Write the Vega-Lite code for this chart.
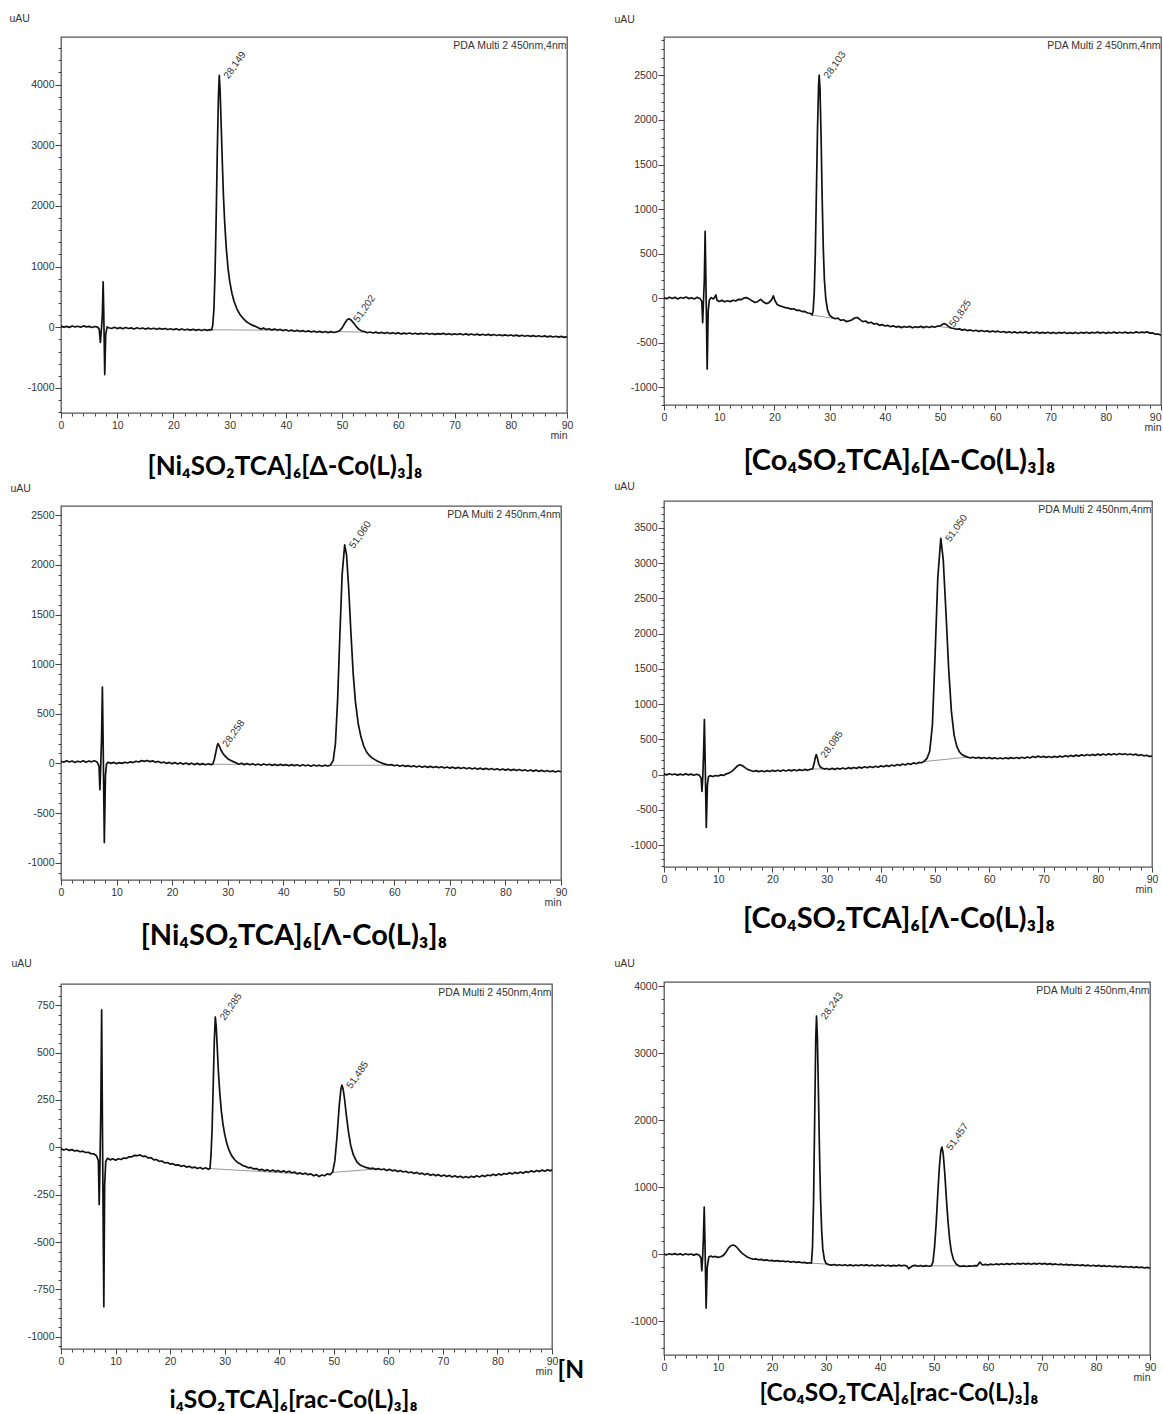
{
  "$schema": "https://vega.github.io/schema/vega-lite/v6.json",
  "padding": {"left": 8, "top": 12, "right": 0, "bottom": 0},
  "background": "white",
  "config": {
    "view": {"stroke": "#555555", "strokeWidth": 1.3},
    "locale": {"number": {"decimal": ",", "thousands": ".", "grouping": [3], "currency": ["", ""], "minus": "-"}},
    "axis": {"labelFont": "Liberation Sans", "labelFontSize": 10.5, "labelColor": "#333333", "tickColor": "#444444", "domain": false, "grid": false, "titleFont": "Liberation Sans", "titleFontSize": 10.5, "titleFontWeight": "normal", "titleColor": "#333333", "format": "d", "labelFlush": false, "labelOverlap": false},
    "axisX": {"titleAnchor": "end", "titleAlign": "right", "titleBaseline": "top", "labelPadding": 2},
    "axisY": {"titleAngle": 0, "titleAlign": "left", "titleBaseline": "middle", "labelPadding": 1},
    "title": {"font": "Lato", "fontWeight": "bold", "color": "#000000", "orient": "bottom", "anchor": "middle", "frame": "group", "baseline": "top"},
    "text": {"font": "Liberation Sans", "fontSize": 10, "color": "#333333"}
  },
  "datasets": {
    "p1": [{"t":0,"v":18},{"t":0.5,"v":2},{"t":1,"v":15},{"t":1.5,"v":-2},{"t":2,"v":20},{"t":2.5,"v":5},{"t":3,"v":16},{"t":3.5,"v":0},{"t":4,"v":22},{"t":4.5,"v":6},{"t":5,"v":14},{"t":5.5,"v":-3},{"t":6,"v":12},{"t":6.5,"v":2},{"t":6.8,"v":-30},{"t":7.0,"v":-250},{"t":7.2,"v":-20},{"t":7.35,"v":200},{"t":7.5,"v":750},{"t":7.62,"v":150},{"t":7.78,"v":-780},{"t":7.95,"v":-120},{"t":8.2,"v":5},{"t":8.5,"v":-8},{"t":9,"v":-20},{"t":9.5,"v":0},{"t":10,"v":-22},{"t":10.5,"v":-6},{"t":11,"v":-25},{"t":11.5,"v":-4},{"t":12,"v":-20},{"t":12.5,"v":-10},{"t":13,"v":-28},{"t":13.5,"v":-8},{"t":14,"v":-24},{"t":14.5,"v":-12},{"t":15,"v":-30},{"t":15.5,"v":-14},{"t":16,"v":-28},{"t":16.5,"v":-16},{"t":17,"v":-34},{"t":17.5,"v":-18},{"t":18,"v":-32},{"t":18.5,"v":-20},{"t":19,"v":-38},{"t":19.5,"v":-24},{"t":20,"v":-40},{"t":20.5,"v":-26},{"t":21,"v":-44},{"t":21.5,"v":-28},{"t":22,"v":-46},{"t":22.5,"v":-32},{"t":23,"v":-48},{"t":23.5,"v":-34},{"t":24,"v":-52},{"t":24.5,"v":-36},{"t":25,"v":-54},{"t":25.5,"v":-38},{"t":26,"v":-52},{"t":26.5,"v":-40},{"t":26.8,"v":-45},{"t":27.0,"v":40},{"t":27.2,"v":300},{"t":27.4,"v":900},{"t":27.6,"v":1800},{"t":27.8,"v":2900},{"t":28.0,"v":3800},{"t":28.149,"v":4150},{"t":28.3,"v":3900},{"t":28.5,"v":3300},{"t":28.7,"v":2700},{"t":28.9,"v":2150},{"t":29.1,"v":1750},{"t":29.4,"v":1300},{"t":29.7,"v":980},{"t":30.0,"v":760},{"t":30.4,"v":560},{"t":30.8,"v":420},{"t":31.3,"v":300},{"t":31.8,"v":215},{"t":32.4,"v":145},{"t":33.0,"v":90},{"t":33.5,"v":60},{"t":34.0,"v":35},{"t":34.5,"v":18},{"t":35,"v":-5},{"t":35.5,"v":-30},{"t":36,"v":-14},{"t":36.5,"v":-38},{"t":37,"v":-24},{"t":37.5,"v":-44},{"t":38,"v":-30},{"t":38.5,"v":-50},{"t":39,"v":-36},{"t":39.5,"v":-56},{"t":40,"v":-42},{"t":40.5,"v":-62},{"t":41,"v":-48},{"t":41.5,"v":-66},{"t":42,"v":-52},{"t":42.5,"v":-70},{"t":43,"v":-56},{"t":43.5,"v":-74},{"t":44,"v":-60},{"t":44.5,"v":-78},{"t":45,"v":-64},{"t":45.5,"v":-82},{"t":46,"v":-68},{"t":46.5,"v":-84},{"t":47,"v":-70},{"t":47.5,"v":-88},{"t":48,"v":-72},{"t":48.5,"v":-86},{"t":49,"v":-76},{"t":49.5,"v":-62},{"t":50.0,"v":-10},{"t":50.5,"v":70},{"t":50.9,"v":125},{"t":51.202,"v":139},{"t":51.5,"v":125},{"t":52.0,"v":75},{"t":52.5,"v":15},{"t":53.0,"v":-35},{"t":53.5,"v":-62},{"t":54,"v":-72},{"t":54.5,"v":-90},{"t":55,"v":-78},{"t":55.5,"v":-94},{"t":56,"v":-80},{"t":56.5,"v":-98},{"t":57,"v":-84},{"t":57.5,"v":-100},{"t":58,"v":-86},{"t":58.5,"v":-104},{"t":59,"v":-90},{"t":59.5,"v":-106},{"t":60,"v":-92},{"t":60.5,"v":-110},{"t":61,"v":-96},{"t":61.5,"v":-108},{"t":62,"v":-94},{"t":62.5,"v":-112},{"t":63,"v":-98},{"t":63.5,"v":-114},{"t":64,"v":-100},{"t":64.5,"v":-112},{"t":65,"v":-98},{"t":65.5,"v":-116},{"t":66,"v":-102},{"t":66.5,"v":-118},{"t":67,"v":-104},{"t":67.5,"v":-114},{"t":68,"v":-100},{"t":68.5,"v":-120},{"t":69,"v":-106},{"t":69.5,"v":-122},{"t":70,"v":-108},{"t":70.5,"v":-120},{"t":71,"v":-106},{"t":71.5,"v":-124},{"t":72,"v":-110},{"t":72.5,"v":-126},{"t":73,"v":-112},{"t":73.5,"v":-128},{"t":74,"v":-114},{"t":74.5,"v":-130},{"t":75,"v":-116},{"t":75.5,"v":-132},{"t":76,"v":-118},{"t":76.5,"v":-134},{"t":77,"v":-120},{"t":77.5,"v":-136},{"t":78,"v":-124},{"t":78.5,"v":-138},{"t":79,"v":-126},{"t":79.5,"v":-140},{"t":80,"v":-128},{"t":80.5,"v":-142},{"t":81,"v":-130},{"t":81.5,"v":-146},{"t":82,"v":-132},{"t":82.5,"v":-148},{"t":83,"v":-136},{"t":83.5,"v":-150},{"t":84,"v":-138},{"t":84.5,"v":-152},{"t":85,"v":-140},{"t":85.5,"v":-156},{"t":86,"v":-142},{"t":86.5,"v":-158},{"t":87,"v":-146},{"t":87.5,"v":-160},{"t":88,"v":-148},{"t":88.5,"v":-162},{"t":89,"v":-150},{"t":89.5,"v":-166},{"t":90,"v":-154}],
    "p2": [{"t":0,"v":5},{"t":0.5,"v":-8},{"t":1,"v":10},{"t":1.5,"v":-4},{"t":2,"v":8},{"t":2.5,"v":-10},{"t":3,"v":6},{"t":3.5,"v":-2},{"t":4,"v":12},{"t":4.5,"v":-6},{"t":5,"v":4},{"t":5.5,"v":-10},{"t":6,"v":8},{"t":6.5,"v":-4},{"t":6.85,"v":-40},{"t":7.0,"v":-276},{"t":7.15,"v":-30},{"t":7.3,"v":200},{"t":7.45,"v":748},{"t":7.6,"v":150},{"t":7.82,"v":-797},{"t":8.0,"v":-150},{"t":8.2,"v":-25},{"t":8.5,"v":5},{"t":9,"v":-10},{"t":9.4,"v":35},{"t":9.6,"v":-25},{"t":10,"v":-38},{"t":10.5,"v":-26},{"t":11,"v":-42},{"t":11.5,"v":-30},{"t":12,"v":-40},{"t":12.5,"v":-24},{"t":13,"v":-32},{"t":13.5,"v":-14},{"t":14,"v":-18},{"t":14.5,"v":2},{"t":15,"v":4},{"t":15.5,"v":-12},{"t":16,"v":-34},{"t":16.5,"v":-50},{"t":17,"v":-38},{"t":17.5,"v":-14},{"t":18,"v":-44},{"t":18.5,"v":-62},{"t":19,"v":-52},{"t":19.5,"v":-18},{"t":19.8,"v":25},{"t":20.1,"v":-30},{"t":20.5,"v":-72},{"t":21,"v":-88},{"t":21.5,"v":-98},{"t":22,"v":-108},{"t":22.5,"v":-112},{"t":23,"v":-124},{"t":23.5,"v":-120},{"t":24,"v":-138},{"t":24.5,"v":-136},{"t":25,"v":-152},{"t":25.5,"v":-150},{"t":26,"v":-168},{"t":26.5,"v":-172},{"t":26.8,"v":-190},{"t":27.0,"v":-150},{"t":27.2,"v":50},{"t":27.4,"v":500},{"t":27.6,"v":1200},{"t":27.8,"v":1900},{"t":28.0,"v":2400},{"t":28.103,"v":2503},{"t":28.25,"v":2350},{"t":28.45,"v":1800},{"t":28.65,"v":1100},{"t":28.85,"v":550},{"t":29.05,"v":200},{"t":29.3,"v":-10},{"t":29.6,"v":-130},{"t":30.0,"v":-195},{"t":30.5,"v":-218},{"t":31,"v":-232},{"t":31.5,"v":-226},{"t":32,"v":-250},{"t":32.5,"v":-244},{"t":33,"v":-264},{"t":33.5,"v":-256},{"t":34,"v":-246},{"t":34.5,"v":-224},{"t":35,"v":-218},{"t":35.5,"v":-242},{"t":36,"v":-264},{"t":36.5,"v":-258},{"t":37,"v":-280},{"t":37.5,"v":-272},{"t":38,"v":-292},{"t":38.5,"v":-286},{"t":39,"v":-306},{"t":39.5,"v":-298},{"t":40,"v":-314},{"t":40.5,"v":-306},{"t":41,"v":-322},{"t":41.5,"v":-312},{"t":42,"v":-326},{"t":42.5,"v":-318},{"t":43,"v":-332},{"t":43.5,"v":-320},{"t":44,"v":-328},{"t":44.5,"v":-318},{"t":45,"v":-334},{"t":45.5,"v":-322},{"t":46,"v":-330},{"t":46.5,"v":-318},{"t":47,"v":-332},{"t":47.5,"v":-320},{"t":48,"v":-330},{"t":48.5,"v":-318},{"t":49,"v":-328},{"t":49.5,"v":-316},{"t":50,"v":-312},{"t":50.3,"v":-300},{"t":50.6,"v":-290},{"t":50.825,"v":-288},{"t":51.1,"v":-296},{"t":51.5,"v":-318},{"t":52,"v":-336},{"t":52.5,"v":-342},{"t":53,"v":-350},{"t":53.5,"v":-346},{"t":54,"v":-360},{"t":54.5,"v":-352},{"t":55,"v":-366},{"t":55.5,"v":-358},{"t":56,"v":-370},{"t":56.5,"v":-362},{"t":57,"v":-374},{"t":57.5,"v":-364},{"t":58,"v":-376},{"t":58.5,"v":-368},{"t":59,"v":-380},{"t":59.5,"v":-370},{"t":60,"v":-380},{"t":60.5,"v":-372},{"t":61,"v":-384},{"t":61.5,"v":-376},{"t":62,"v":-388},{"t":62.5,"v":-378},{"t":63,"v":-390},{"t":63.5,"v":-380},{"t":64,"v":-392},{"t":64.5,"v":-382},{"t":65,"v":-390},{"t":65.5,"v":-380},{"t":66,"v":-394},{"t":66.5,"v":-384},{"t":67,"v":-392},{"t":67.5,"v":-382},{"t":68,"v":-396},{"t":68.5,"v":-386},{"t":69,"v":-394},{"t":69.5,"v":-384},{"t":70,"v":-396},{"t":70.5,"v":-386},{"t":71,"v":-398},{"t":71.5,"v":-386},{"t":72,"v":-394},{"t":72.5,"v":-384},{"t":73,"v":-398},{"t":73.5,"v":-388},{"t":74,"v":-396},{"t":74.5,"v":-386},{"t":75,"v":-398},{"t":75.5,"v":-386},{"t":76,"v":-394},{"t":76.5,"v":-384},{"t":77,"v":-396},{"t":77.5,"v":-386},{"t":78,"v":-392},{"t":78.5,"v":-382},{"t":79,"v":-394},{"t":79.5,"v":-384},{"t":80,"v":-396},{"t":80.5,"v":-386},{"t":81,"v":-392},{"t":81.5,"v":-382},{"t":82,"v":-394},{"t":82.5,"v":-384},{"t":83,"v":-392},{"t":83.5,"v":-382},{"t":84,"v":-394},{"t":84.5,"v":-386},{"t":85,"v":-392},{"t":85.5,"v":-380},{"t":86,"v":-390},{"t":86.5,"v":-382},{"t":87,"v":-388},{"t":87.5,"v":-380},{"t":88,"v":-394},{"t":88.5,"v":-392},{"t":89,"v":-406},{"t":89.5,"v":-404},{"t":90,"v":-417}],
    "p3": [{"t":0,"v":22},{"t":0.5,"v":12},{"t":1,"v":26},{"t":1.5,"v":14},{"t":2,"v":24},{"t":2.5,"v":10},{"t":3,"v":22},{"t":3.5,"v":14},{"t":4,"v":26},{"t":4.5,"v":12},{"t":5,"v":24},{"t":5.5,"v":16},{"t":6,"v":26},{"t":6.5,"v":14},{"t":6.85,"v":-30},{"t":7.0,"v":-265},{"t":7.15,"v":-20},{"t":7.3,"v":250},{"t":7.45,"v":768},{"t":7.6,"v":150},{"t":7.8,"v":-798},{"t":8.0,"v":-120},{"t":8.2,"v":-5},{"t":8.5,"v":12},{"t":9,"v":0},{"t":9.5,"v":10},{"t":10,"v":-2},{"t":10.5,"v":8},{"t":11,"v":0},{"t":11.5,"v":12},{"t":12,"v":4},{"t":12.5,"v":16},{"t":13,"v":8},{"t":13.5,"v":22},{"t":14,"v":14},{"t":14.5,"v":28},{"t":15,"v":20},{"t":15.5,"v":30},{"t":16,"v":18},{"t":16.5,"v":26},{"t":17,"v":12},{"t":17.5,"v":20},{"t":18,"v":6},{"t":18.5,"v":14},{"t":19,"v":0},{"t":19.5,"v":10},{"t":20,"v":-4},{"t":20.5,"v":8},{"t":21,"v":-6},{"t":21.5,"v":6},{"t":22,"v":-8},{"t":22.5,"v":4},{"t":23,"v":-10},{"t":23.5,"v":2},{"t":24,"v":-12},{"t":24.5,"v":0},{"t":25,"v":-12},{"t":25.5,"v":-2},{"t":26,"v":-14},{"t":26.5,"v":-4},{"t":27,"v":-12},{"t":27.3,"v":-8},{"t":27.6,"v":40},{"t":27.9,"v":120},{"t":28.1,"v":175},{"t":28.258,"v":200},{"t":28.5,"v":175},{"t":28.8,"v":135},{"t":29.1,"v":105},{"t":29.5,"v":75},{"t":30,"v":48},{"t":30.5,"v":32},{"t":31,"v":18},{"t":31.5,"v":6},{"t":32,"v":-8},{"t":32.5,"v":0},{"t":33,"v":-12},{"t":33.5,"v":-2},{"t":34,"v":-14},{"t":34.5,"v":-4},{"t":35,"v":-16},{"t":35.5,"v":-6},{"t":36,"v":-18},{"t":36.5,"v":-6},{"t":37,"v":-16},{"t":37.5,"v":-8},{"t":38,"v":-20},{"t":38.5,"v":-10},{"t":39,"v":-22},{"t":39.5,"v":-10},{"t":40,"v":-20},{"t":40.5,"v":-12},{"t":41,"v":-24},{"t":41.5,"v":-12},{"t":42,"v":-22},{"t":42.5,"v":-14},{"t":43,"v":-26},{"t":43.5,"v":-14},{"t":44,"v":-24},{"t":44.5,"v":-16},{"t":45,"v":-28},{"t":45.5,"v":-16},{"t":46,"v":-26},{"t":46.5,"v":-18},{"t":47,"v":-28},{"t":47.5,"v":-18},{"t":48,"v":-26},{"t":48.5,"v":-18},{"t":49.0,"v":30},{"t":49.4,"v":200},{"t":49.8,"v":650},{"t":50.2,"v":1300},{"t":50.6,"v":1900},{"t":51.06,"v":2202},{"t":51.4,"v":2100},{"t":51.8,"v":1750},{"t":52.2,"v":1300},{"t":52.6,"v":900},{"t":53.0,"v":620},{"t":53.5,"v":400},{"t":54.0,"v":265},{"t":54.5,"v":175},{"t":55,"v":115},{"t":55.5,"v":80},{"t":56,"v":55},{"t":56.5,"v":38},{"t":57,"v":22},{"t":57.5,"v":10},{"t":58,"v":-2},{"t":58.5,"v":-10},{"t":59,"v":-16},{"t":59.5,"v":-12},{"t":60,"v":-24},{"t":60.5,"v":-16},{"t":61,"v":-28},{"t":61.5,"v":-18},{"t":62,"v":-30},{"t":62.5,"v":-22},{"t":63,"v":-34},{"t":63.5,"v":-24},{"t":64,"v":-36},{"t":64.5,"v":-26},{"t":65,"v":-38},{"t":65.5,"v":-28},{"t":66,"v":-40},{"t":66.5,"v":-30},{"t":67,"v":-42},{"t":67.5,"v":-32},{"t":68,"v":-44},{"t":68.5,"v":-34},{"t":69,"v":-46},{"t":69.5,"v":-36},{"t":70,"v":-48},{"t":70.5,"v":-38},{"t":71,"v":-50},{"t":71.5,"v":-40},{"t":72,"v":-52},{"t":72.5,"v":-42},{"t":73,"v":-54},{"t":73.5,"v":-44},{"t":74,"v":-56},{"t":74.5,"v":-46},{"t":75,"v":-58},{"t":75.5,"v":-48},{"t":76,"v":-60},{"t":76.5,"v":-50},{"t":77,"v":-62},{"t":77.5,"v":-52},{"t":78,"v":-64},{"t":78.5,"v":-54},{"t":79,"v":-66},{"t":79.5,"v":-56},{"t":80,"v":-68},{"t":80.5,"v":-58},{"t":81,"v":-70},{"t":81.5,"v":-60},{"t":82,"v":-72},{"t":82.5,"v":-62},{"t":83,"v":-74},{"t":83.5,"v":-64},{"t":84,"v":-76},{"t":84.5,"v":-66},{"t":85,"v":-78},{"t":85.5,"v":-68},{"t":86,"v":-80},{"t":86.5,"v":-70},{"t":87,"v":-82},{"t":87.5,"v":-72},{"t":88,"v":-84},{"t":88.5,"v":-74},{"t":89,"v":-86},{"t":89.5,"v":-76},{"t":90,"v":-84}],
    "p4": [{"t":0,"v":10},{"t":0.5,"v":-4},{"t":1,"v":12},{"t":1.5,"v":-2},{"t":2,"v":8},{"t":2.5,"v":-8},{"t":3,"v":6},{"t":3.5,"v":-6},{"t":4,"v":10},{"t":4.5,"v":-4},{"t":5,"v":6},{"t":5.5,"v":-10},{"t":6,"v":4},{"t":6.5,"v":-8},{"t":6.85,"v":-50},{"t":7.0,"v":-240},{"t":7.15,"v":-40},{"t":7.3,"v":300},{"t":7.45,"v":780},{"t":7.6,"v":150},{"t":7.8,"v":-750},{"t":8.0,"v":-150},{"t":8.2,"v":-30},{"t":8.5,"v":-15},{"t":9,"v":-28},{"t":9.5,"v":-14},{"t":10,"v":-20},{"t":10.5,"v":-4},{"t":11,"v":-12},{"t":11.5,"v":10},{"t":12,"v":20},{"t":12.5,"v":45},{"t":13,"v":80},{"t":13.5,"v":120},{"t":14,"v":140},{"t":14.5,"v":125},{"t":15,"v":95},{"t":15.5,"v":70},{"t":16,"v":58},{"t":16.5,"v":44},{"t":17,"v":56},{"t":17.5,"v":42},{"t":18,"v":54},{"t":18.5,"v":40},{"t":19,"v":56},{"t":19.5,"v":44},{"t":20,"v":60},{"t":20.5,"v":46},{"t":21,"v":62},{"t":21.5,"v":48},{"t":22,"v":64},{"t":22.5,"v":50},{"t":23,"v":66},{"t":23.5,"v":52},{"t":24,"v":68},{"t":24.5,"v":54},{"t":25,"v":70},{"t":25.5,"v":58},{"t":26,"v":74},{"t":26.5,"v":60},{"t":27,"v":76},{"t":27.4,"v":80},{"t":27.7,"v":160},{"t":27.9,"v":240},{"t":28.085,"v":284},{"t":28.3,"v":230},{"t":28.55,"v":150},{"t":28.8,"v":110},{"t":29.2,"v":90},{"t":29.6,"v":78},{"t":30,"v":86},{"t":30.5,"v":72},{"t":31,"v":88},{"t":31.5,"v":74},{"t":32,"v":90},{"t":32.5,"v":78},{"t":33,"v":94},{"t":33.5,"v":80},{"t":34,"v":98},{"t":34.5,"v":84},{"t":35,"v":100},{"t":35.5,"v":88},{"t":36,"v":106},{"t":36.5,"v":92},{"t":37,"v":110},{"t":37.5,"v":96},{"t":38,"v":114},{"t":38.5,"v":100},{"t":39,"v":118},{"t":39.5,"v":104},{"t":40,"v":124},{"t":40.5,"v":110},{"t":41,"v":130},{"t":41.5,"v":116},{"t":42,"v":136},{"t":42.5,"v":122},{"t":43,"v":142},{"t":43.5,"v":128},{"t":44,"v":150},{"t":44.5,"v":136},{"t":45,"v":158},{"t":45.5,"v":144},{"t":46,"v":166},{"t":46.5,"v":154},{"t":47,"v":172},{"t":47.5,"v":168},{"t":48,"v":190},{"t":48.5,"v":230},{"t":49,"v":330},{"t":49.5,"v":700},{"t":50,"v":1700},{"t":50.5,"v":2800},{"t":51.05,"v":3352},{"t":51.5,"v":3050},{"t":52,"v":2300},{"t":52.5,"v":1500},{"t":53,"v":900},{"t":53.5,"v":560},{"t":54,"v":400},{"t":54.5,"v":320},{"t":55,"v":280},{"t":55.5,"v":262},{"t":56,"v":248},{"t":56.5,"v":236},{"t":57,"v":246},{"t":57.5,"v":232},{"t":58,"v":244},{"t":58.5,"v":230},{"t":59,"v":242},{"t":59.5,"v":228},{"t":60,"v":240},{"t":60.5,"v":226},{"t":61,"v":238},{"t":61.5,"v":224},{"t":62,"v":236},{"t":62.5,"v":224},{"t":63,"v":238},{"t":63.5,"v":226},{"t":64,"v":240},{"t":64.5,"v":228},{"t":65,"v":242},{"t":65.5,"v":230},{"t":66,"v":246},{"t":66.5,"v":232},{"t":67,"v":250},{"t":67.5,"v":236},{"t":68,"v":256},{"t":68.5,"v":242},{"t":69,"v":262},{"t":69.5,"v":246},{"t":70,"v":258},{"t":70.5,"v":244},{"t":71,"v":256},{"t":71.5,"v":242},{"t":72,"v":258},{"t":72.5,"v":246},{"t":73,"v":262},{"t":73.5,"v":250},{"t":74,"v":268},{"t":74.5,"v":254},{"t":75,"v":272},{"t":75.5,"v":258},{"t":76,"v":276},{"t":76.5,"v":262},{"t":77,"v":280},{"t":77.5,"v":266},{"t":78,"v":284},{"t":78.5,"v":270},{"t":79,"v":286},{"t":79.5,"v":272},{"t":80,"v":290},{"t":80.5,"v":276},{"t":81,"v":292},{"t":81.5,"v":278},{"t":82,"v":294},{"t":82.5,"v":280},{"t":83,"v":296},{"t":83.5,"v":282},{"t":84,"v":298},{"t":84.5,"v":284},{"t":85,"v":296},{"t":85.5,"v":282},{"t":86,"v":292},{"t":86.5,"v":278},{"t":87,"v":290},{"t":87.5,"v":272},{"t":88,"v":282},{"t":88.5,"v":266},{"t":89,"v":274},{"t":89.5,"v":258},{"t":90,"v":262}],
    "p5": [{"t":0,"v":-8},{"t":0.5,"v":-14},{"t":1,"v":-9},{"t":1.5,"v":-16},{"t":2,"v":-12},{"t":2.5,"v":-19},{"t":3,"v":-16},{"t":3.5,"v":-23},{"t":4,"v":-20},{"t":4.5,"v":-27},{"t":5,"v":-26},{"t":5.5,"v":-33},{"t":6,"v":-34},{"t":6.5,"v":-44},{"t":6.85,"v":-70},{"t":7.0,"v":-302},{"t":7.15,"v":-80},{"t":7.3,"v":200},{"t":7.45,"v":725},{"t":7.6,"v":100},{"t":7.85,"v":-841},{"t":8.0,"v":-200},{"t":8.2,"v":-75},{"t":8.5,"v":-58},{"t":9,"v":-66},{"t":9.5,"v":-60},{"t":10,"v":-68},{"t":10.5,"v":-60},{"t":11,"v":-64},{"t":11.5,"v":-56},{"t":12,"v":-58},{"t":12.5,"v":-50},{"t":13,"v":-50},{"t":13.5,"v":-42},{"t":14,"v":-44},{"t":14.5,"v":-40},{"t":15,"v":-48},{"t":15.5,"v":-46},{"t":16,"v":-56},{"t":16.5,"v":-54},{"t":17,"v":-66},{"t":17.5,"v":-64},{"t":18,"v":-74},{"t":18.5,"v":-72},{"t":19,"v":-82},{"t":19.5,"v":-80},{"t":20,"v":-88},{"t":20.5,"v":-86},{"t":21,"v":-94},{"t":21.5,"v":-92},{"t":22,"v":-100},{"t":22.5,"v":-96},{"t":23,"v":-104},{"t":23.5,"v":-100},{"t":24,"v":-108},{"t":24.5,"v":-104},{"t":25,"v":-112},{"t":25.5,"v":-106},{"t":26,"v":-114},{"t":26.5,"v":-108},{"t":27,"v":-116},{"t":27.3,"v":-112},{"t":27.5,"v":-40},{"t":27.7,"v":100},{"t":27.9,"v":330},{"t":28.1,"v":560},{"t":28.285,"v":688},{"t":28.45,"v":640},{"t":28.65,"v":520},{"t":28.85,"v":400},{"t":29.1,"v":290},{"t":29.4,"v":190},{"t":29.7,"v":120},{"t":30.0,"v":70},{"t":30.4,"v":20},{"t":30.8,"v":-15},{"t":31.3,"v":-45},{"t":31.8,"v":-64},{"t":32.3,"v":-78},{"t":32.8,"v":-86},{"t":33.3,"v":-96},{"t":33.8,"v":-100},{"t":34.3,"v":-108},{"t":34.8,"v":-106},{"t":35.3,"v":-114},{"t":35.8,"v":-112},{"t":36.3,"v":-120},{"t":36.8,"v":-116},{"t":37.3,"v":-124},{"t":37.8,"v":-118},{"t":38.3,"v":-126},{"t":38.8,"v":-120},{"t":39.3,"v":-128},{"t":39.8,"v":-122},{"t":40.3,"v":-130},{"t":40.8,"v":-124},{"t":41.3,"v":-132},{"t":41.8,"v":-126},{"t":42.3,"v":-134},{"t":42.8,"v":-130},{"t":43.3,"v":-140},{"t":43.8,"v":-134},{"t":44.3,"v":-142},{"t":44.8,"v":-136},{"t":45.3,"v":-144},{"t":45.8,"v":-140},{"t":46.3,"v":-150},{"t":46.8,"v":-144},{"t":47.3,"v":-154},{"t":47.8,"v":-146},{"t":48.3,"v":-150},{"t":48.8,"v":-140},{"t":49.3,"v":-144},{"t":49.8,"v":-130},{"t":50.2,"v":-70},{"t":50.6,"v":60},{"t":51.0,"v":220},{"t":51.3,"v":305},{"t":51.485,"v":328},{"t":51.7,"v":310},{"t":52.0,"v":250},{"t":52.3,"v":170},{"t":52.7,"v":80},{"t":53.1,"v":10},{"t":53.6,"v":-40},{"t":54.2,"v":-75},{"t":54.7,"v":-90},{"t":55.2,"v":-98},{"t":55.7,"v":-104},{"t":56.2,"v":-108},{"t":56.7,"v":-112},{"t":57.2,"v":-110},{"t":57.7,"v":-116},{"t":58.2,"v":-112},{"t":58.7,"v":-118},{"t":59.2,"v":-114},{"t":59.7,"v":-122},{"t":60.2,"v":-116},{"t":60.7,"v":-124},{"t":61.2,"v":-120},{"t":61.7,"v":-128},{"t":62.2,"v":-122},{"t":62.7,"v":-130},{"t":63.2,"v":-126},{"t":63.7,"v":-134},{"t":64.2,"v":-130},{"t":64.7,"v":-138},{"t":65.2,"v":-132},{"t":65.7,"v":-140},{"t":66.2,"v":-136},{"t":66.7,"v":-144},{"t":67.2,"v":-138},{"t":67.7,"v":-148},{"t":68.2,"v":-142},{"t":68.7,"v":-150},{"t":69.2,"v":-144},{"t":69.7,"v":-152},{"t":70.2,"v":-146},{"t":70.7,"v":-154},{"t":71.2,"v":-148},{"t":71.7,"v":-156},{"t":72.2,"v":-150},{"t":72.7,"v":-158},{"t":73.2,"v":-152},{"t":73.7,"v":-160},{"t":74.2,"v":-154},{"t":74.7,"v":-160},{"t":75.2,"v":-152},{"t":75.7,"v":-158},{"t":76.2,"v":-150},{"t":76.7,"v":-156},{"t":77.2,"v":-148},{"t":77.7,"v":-154},{"t":78.2,"v":-146},{"t":78.7,"v":-150},{"t":79.2,"v":-142},{"t":79.7,"v":-148},{"t":80.2,"v":-140},{"t":80.7,"v":-146},{"t":81.2,"v":-138},{"t":81.7,"v":-142},{"t":82.2,"v":-134},{"t":82.7,"v":-140},{"t":83.2,"v":-132},{"t":83.7,"v":-138},{"t":84.2,"v":-130},{"t":84.7,"v":-136},{"t":85.2,"v":-128},{"t":85.7,"v":-132},{"t":86.2,"v":-124},{"t":86.7,"v":-130},{"t":87.2,"v":-122},{"t":87.7,"v":-128},{"t":88.2,"v":-120},{"t":88.7,"v":-126},{"t":89.2,"v":-118},{"t":89.7,"v":-124},{"t":90,"v":-118}],
    "p6": [{"t":0,"v":-2},{"t":0.5,"v":-12},{"t":1,"v":4},{"t":1.5,"v":-8},{"t":2,"v":6},{"t":2.5,"v":-10},{"t":3,"v":2},{"t":3.5,"v":-14},{"t":4,"v":4},{"t":4.5,"v":-10},{"t":5,"v":0},{"t":5.5,"v":-16},{"t":6,"v":-2},{"t":6.5,"v":-14},{"t":6.85,"v":-60},{"t":7.0,"v":-250},{"t":7.15,"v":-60},{"t":7.3,"v":250},{"t":7.45,"v":700},{"t":7.6,"v":120},{"t":7.8,"v":-806},{"t":8.0,"v":-200},{"t":8.3,"v":-45},{"t":8.7,"v":-30},{"t":9,"v":-44},{"t":9.5,"v":-36},{"t":10,"v":-50},{"t":10.5,"v":-40},{"t":11,"v":-20},{"t":11.5,"v":30},{"t":12,"v":95},{"t":12.5,"v":128},{"t":12.8,"v":135},{"t":13.2,"v":120},{"t":13.6,"v":90},{"t":14,"v":50},{"t":14.5,"v":10},{"t":15,"v":-20},{"t":15.5,"v":-48},{"t":16,"v":-64},{"t":16.5,"v":-78},{"t":17,"v":-72},{"t":17.5,"v":-86},{"t":18,"v":-80},{"t":18.5,"v":-94},{"t":19,"v":-88},{"t":19.5,"v":-100},{"t":20,"v":-94},{"t":20.5,"v":-106},{"t":21,"v":-98},{"t":21.5,"v":-110},{"t":22,"v":-104},{"t":22.5,"v":-114},{"t":23,"v":-108},{"t":23.5,"v":-120},{"t":24,"v":-112},{"t":24.5,"v":-124},{"t":25,"v":-118},{"t":25.5,"v":-130},{"t":26,"v":-124},{"t":26.5,"v":-136},{"t":27,"v":-130},{"t":27.3,"v":-138},{"t":27.5,"v":100},{"t":27.7,"v":800},{"t":27.9,"v":2000},{"t":28.1,"v":3200},{"t":28.243,"v":3552},{"t":28.4,"v":3250},{"t":28.6,"v":2400},{"t":28.8,"v":1500},{"t":29.0,"v":800},{"t":29.2,"v":350},{"t":29.4,"v":80},{"t":29.7,"v":-80},{"t":30,"v":-140},{"t":30.5,"v":-158},{"t":31,"v":-166},{"t":31.5,"v":-156},{"t":32,"v":-170},{"t":32.5,"v":-160},{"t":33,"v":-172},{"t":33.5,"v":-160},{"t":34,"v":-174},{"t":34.5,"v":-162},{"t":35,"v":-176},{"t":35.5,"v":-164},{"t":36,"v":-174},{"t":36.5,"v":-160},{"t":37,"v":-172},{"t":37.5,"v":-162},{"t":38,"v":-176},{"t":38.5,"v":-164},{"t":39,"v":-178},{"t":39.5,"v":-166},{"t":40,"v":-176},{"t":40.5,"v":-164},{"t":41,"v":-178},{"t":41.5,"v":-168},{"t":42,"v":-180},{"t":42.5,"v":-170},{"t":43,"v":-178},{"t":43.5,"v":-166},{"t":44,"v":-176},{"t":44.5,"v":-168},{"t":45,"v":-180},{"t":45.3,"v":-220},{"t":45.6,"v":-200},{"t":46,"v":-178},{"t":46.5,"v":-170},{"t":47,"v":-182},{"t":47.5,"v":-172},{"t":48,"v":-184},{"t":48.5,"v":-174},{"t":49,"v":-182},{"t":49.5,"v":-176},{"t":49.8,"v":-120},{"t":50.1,"v":100},{"t":50.4,"v":450},{"t":50.7,"v":900},{"t":51.0,"v":1300},{"t":51.25,"v":1530},{"t":51.457,"v":1597},{"t":51.7,"v":1500},{"t":52.0,"v":1200},{"t":52.3,"v":820},{"t":52.6,"v":480},{"t":52.9,"v":220},{"t":53.2,"v":40},{"t":53.6,"v":-80},{"t":54.1,"v":-150},{"t":54.6,"v":-176},{"t":55,"v":-184},{"t":55.5,"v":-176},{"t":56,"v":-186},{"t":56.5,"v":-178},{"t":57,"v":-182},{"t":57.5,"v":-172},{"t":58,"v":-176},{"t":58.5,"v":-120},{"t":58.8,"v":-150},{"t":59,"v":-164},{"t":59.5,"v":-154},{"t":60,"v":-164},{"t":60.5,"v":-150},{"t":61,"v":-160},{"t":61.5,"v":-148},{"t":62,"v":-158},{"t":62.5,"v":-146},{"t":63,"v":-156},{"t":63.5,"v":-144},{"t":64,"v":-154},{"t":64.5,"v":-142},{"t":65,"v":-152},{"t":65.5,"v":-140},{"t":66,"v":-150},{"t":66.5,"v":-138},{"t":67,"v":-150},{"t":67.5,"v":-140},{"t":68,"v":-152},{"t":68.5,"v":-140},{"t":69,"v":-150},{"t":69.5,"v":-138},{"t":70,"v":-150},{"t":70.5,"v":-140},{"t":71,"v":-154},{"t":71.5,"v":-144},{"t":72,"v":-158},{"t":72.5,"v":-148},{"t":73,"v":-160},{"t":73.5,"v":-150},{"t":74,"v":-164},{"t":74.5,"v":-154},{"t":75,"v":-166},{"t":75.5,"v":-156},{"t":76,"v":-170},{"t":76.5,"v":-160},{"t":77,"v":-172},{"t":77.5,"v":-162},{"t":78,"v":-176},{"t":78.5,"v":-166},{"t":79,"v":-178},{"t":79.5,"v":-168},{"t":80,"v":-180},{"t":80.5,"v":-170},{"t":81,"v":-184},{"t":81.5,"v":-174},{"t":82,"v":-186},{"t":82.5,"v":-176},{"t":83,"v":-190},{"t":83.5,"v":-180},{"t":84,"v":-192},{"t":84.5,"v":-182},{"t":85,"v":-196},{"t":85.5,"v":-186},{"t":86,"v":-198},{"t":86.5,"v":-188},{"t":87,"v":-202},{"t":87.5,"v":-192},{"t":88,"v":-204},{"t":88.5,"v":-196},{"t":89,"v":-208},{"t":89.5,"v":-200},{"t":90,"v":-212}],
    "b1": [{"seg":1,"t":26.8,"v":-42},{"seg":1,"t":38,"v":-48},{"seg":2,"t":49.3,"v":-72},{"seg":2,"t":54,"v":-80}],
    "b2": [{"seg":1,"t":26.8,"v":-190},{"seg":1,"t":31,"v":-232},{"seg":2,"t":49.5,"v":-316},{"seg":2,"t":52.5,"v":-342}],
    "b3": [{"seg":1,"t":27.3,"v":-8},{"seg":1,"t":32,"v":-10},{"seg":2,"t":48.5,"v":-20},{"seg":2,"t":59,"v":-18}],
    "b4": [{"seg":1,"t":27.4,"v":80},{"seg":1,"t":29.6,"v":80},{"seg":2,"t":48,"v":185},{"seg":2,"t":56,"v":248}],
    "b5": [{"seg":1,"t":27.3,"v":-112},{"seg":1,"t":44,"v":-140},{"seg":2,"t":49.8,"v":-132},{"seg":2,"t":58,"v":-114}],
    "b6": [{"seg":1,"t":27.3,"v":-136},{"seg":1,"t":30,"v":-150},{"seg":2,"t":49.6,"v":-176},{"seg":2,"t":54.6,"v":-176}],
    "k1": [{"t":28.149,"v":4150},{"t":51.202,"v":139}],
    "k2": [{"t":28.103,"v":2503},{"t":50.825,"v":-288}],
    "k3": [{"t":28.258,"v":200},{"t":51.06,"v":2202}],
    "k4": [{"t":28.085,"v":284},{"t":51.05,"v":3352}],
    "k5": [{"t":28.285,"v":688},{"t":51.485,"v":328}],
    "k6": [{"t":28.243,"v":3552},{"t":51.457,"v":1597}]
  },
  "spacing": 28,
  "hconcat": [
    {
      "bounds": "flush",
      "spacing": 93,
      "vconcat": [
        {
          "width": 506, "height": 376,
          "title": {"text": "[Ni₄SO₂TCA]₆[Δ-Co(L)₃]₈", "fontSize": 26, "dx": -29, "offset": 13},
          "resolve": {"axis": {"x": "independent", "y": "independent"}},
          "layer": [
            {"data": {"name": "b1"}, "mark": {"type": "line", "color": "#9a9a9a", "strokeWidth": 1},
              "encoding": {
                "x": {"field": "t", "type": "quantitative", "scale": {"domain": [0, 90], "nice": false, "zero": false}, "axis": {"orient": "bottom", "values": [0,2,4,6,8,10,12,14,16,18,20,22,24,26,28,30,32,34,36,38,40,42,44,46,48,50,52,54,56,58,60,62,64,66,68,70,72,74,76,78,80,82,84,86,88,90], "labels": false, "tickSize": 3, "title": null}},
                "y": {"field": "v", "type": "quantitative", "scale": {"domain": [-1413, 4783], "nice": false, "zero": false}, "axis": {"orient": "left", "values": [-1400,-1200,-1000,-800,-600,-400,-200,0,200,400,600,800,1000,1200,1400,1600,1800,2000,2200,2400,2600,2800,3000,3200,3400,3600,3800,4000,4200,4400,4600], "labels": false, "tickSize": 3, "title": null}},
                "detail": {"field": "seg"}}},
            {"data": {"name": "p1"}, "mark": {"type": "line", "color": "#111111", "strokeWidth": 1.7, "strokeJoin": "round"},
              "encoding": {
                "x": {"field": "t", "type": "quantitative", "axis": {"orient": "bottom", "values": [0,10,20,30,40,50,60,70,80,90], "tickSize": 5, "title": "min", "titleX": 506, "titleY": 17}},
                "y": {"field": "v", "type": "quantitative", "axis": {"orient": "left", "values": [-1000,0,1000,2000,3000,4000], "tickSize": 6, "title": "uAU", "titleX": -52, "titleY": -19}}}},
            {"data": {"name": "k1"}, "mark": {"type": "text", "angle": -55, "align": "left", "baseline": "middle", "dx": 2, "dy": 7},
              "encoding": {
                "x": {"field": "t", "type": "quantitative", "axis": {"orient": "top", "labels": false, "ticks": false, "title": "PDA Multi 2 450nm,4nm", "titleX": 505, "titleY": 3}},
                "y": {"field": "v", "type": "quantitative", "axis": null},
                "text": {"field": "t", "format": ".3f"}}}
          ]
        },
        {
          "bounds": "flush",
          "spacing": 104,
          "vconcat": [
            {
              "width": 500, "height": 374,
              "title": {"text": "[Ni₄SO₂TCA]₆[Λ-Co(L)₃]₈", "fontSize": 29, "dx": -17, "offset": 14},
              "resolve": {"axis": {"x": "independent", "y": "independent"}},
              "layer": [
                {"data": {"name": "b3"}, "mark": {"type": "line", "color": "#9a9a9a", "strokeWidth": 1},
                  "encoding": {
                    "x": {"field": "t", "type": "quantitative", "scale": {"domain": [0, 90], "nice": false, "zero": false}, "axis": {"orient": "bottom", "values": [0,2,4,6,8,10,12,14,16,18,20,22,24,26,28,30,32,34,36,38,40,42,44,46,48,50,52,54,56,58,60,62,64,66,68,70,72,74,76,78,80,82,84,86,88,90], "labels": false, "tickSize": 3, "title": null}},
                    "y": {"field": "v", "type": "quantitative", "scale": {"domain": [-1175, 2594], "nice": false, "zero": false}, "axis": {"orient": "left", "values": [-1100,-1000,-900,-800,-700,-600,-500,-400,-300,-200,-100,0,100,200,300,400,500,600,700,800,900,1000,1100,1200,1300,1400,1500,1600,1700,1800,1900,2000,2100,2200,2300,2400,2500], "labels": false, "tickSize": 3, "title": null}},
                    "detail": {"field": "seg"}}},
                {"data": {"name": "p3"}, "mark": {"type": "line", "color": "#111111", "strokeWidth": 1.7, "strokeJoin": "round"},
                  "encoding": {
                    "x": {"field": "t", "type": "quantitative", "axis": {"orient": "bottom", "values": [0,10,20,30,40,50,60,70,80,90], "tickSize": 5, "title": "min", "titleX": 500, "titleY": 17}},
                    "y": {"field": "v", "type": "quantitative", "axis": {"orient": "left", "values": [-1000,-500,0,500,1000,1500,2000,2500], "tickSize": 6, "title": "uAU", "titleX": -51, "titleY": -18}}}},
                {"data": {"name": "k3"}, "mark": {"type": "text", "angle": -55, "align": "left", "baseline": "middle", "dx": 2, "dy": 7},
                  "encoding": {
                    "x": {"field": "t", "type": "quantitative", "axis": {"orient": "top", "labels": false, "ticks": false, "title": "PDA Multi 2 450nm,4nm", "titleX": 499, "titleY": 3}},
                    "y": {"field": "v", "type": "quantitative", "axis": null},
                    "text": {"field": "t", "format": ".3f"}}}
              ]
            },
            {
              "width": 491, "height": 365,
              "title": {"text": "i₄SO₂TCA]₆[rac-Co(L)₃]₈", "fontSize": 24.5, "dx": -13, "offset": 7},
              "resolve": {"axis": {"x": "independent", "y": "independent"}},
              "layer": [
                {"data": {"name": "b5"}, "mark": {"type": "line", "color": "#9a9a9a", "strokeWidth": 1},
                  "encoding": {
                    "x": {"field": "t", "type": "quantitative", "scale": {"domain": [0, 90], "nice": false, "zero": false}, "axis": {"orient": "bottom", "values": [0,2,4,6,8,10,12,14,16,18,20,22,24,26,28,30,32,34,36,38,40,42,44,46,48,50,52,54,56,58,60,62,64,66,68,70,72,74,76,78,80,82,84,86,88,90], "labels": false, "tickSize": 3, "title": null}},
                    "y": {"field": "v", "type": "quantitative", "scale": {"domain": [-1064, 862], "nice": false, "zero": false}, "axis": {"orient": "left", "values": [-1050,-1000,-950,-900,-850,-800,-750,-700,-650,-600,-550,-500,-450,-400,-350,-300,-250,-200,-150,-100,-50,0,50,100,150,200,250,300,350,400,450,500,550,600,650,700,750,800,850], "labels": false, "tickSize": 3, "title": null}},
                    "detail": {"field": "seg"}}},
                {"data": {"name": "p5"}, "mark": {"type": "line", "color": "#111111", "strokeWidth": 1.7, "strokeJoin": "round"},
                  "encoding": {
                    "x": {"field": "t", "type": "quantitative", "axis": {"orient": "bottom", "values": [0,10,20,30,40,50,60,70,80,90], "tickSize": 5, "title": "min", "titleX": 491, "titleY": 17}},
                    "y": {"field": "v", "type": "quantitative", "axis": {"orient": "left", "values": [-1000,-750,-500,-250,0,250,500,750], "tickSize": 6, "title": "uAU", "titleX": -50, "titleY": -21}}}},
                {"data": {"name": "k5"}, "mark": {"type": "text", "angle": -55, "align": "left", "baseline": "middle", "dx": 2, "dy": 7},
                  "encoding": {
                    "x": {"field": "t", "type": "quantitative", "axis": {"orient": "top", "labels": false, "ticks": false, "title": "PDA Multi 2 450nm,4nm", "titleX": 490, "titleY": 3}},
                    "y": {"field": "v", "type": "quantitative", "axis": {"orient": "right", "labels": false, "ticks": false, "title": "[N", "titleX": 5, "titleY": 386, "titleFont": "Lato", "titleFontWeight": "bold", "titleFontSize": 24.5, "titleColor": "#000000"}},
                    "text": {"field": "t", "format": ".3f"}}}
              ]
            }
          ]
        }
      ]
    },
    {
      "bounds": "flush",
      "spacing": 96,
      "vconcat": [
        {
          "width": 497, "height": 368,
          "title": {"text": "[Co₄SO₂TCA]₆[Δ-Co(L)₃]₈", "fontSize": 29, "dx": -13, "offset": 14},
          "resolve": {"axis": {"x": "independent", "y": "independent"}},
          "layer": [
            {"data": {"name": "b2"}, "mark": {"type": "line", "color": "#9a9a9a", "strokeWidth": 1},
              "encoding": {
                "x": {"field": "t", "type": "quantitative", "scale": {"domain": [0, 90], "nice": false, "zero": false}, "axis": {"orient": "bottom", "values": [0,2,4,6,8,10,12,14,16,18,20,22,24,26,28,30,32,34,36,38,40,42,44,46,48,50,52,54,56,58,60,62,64,66,68,70,72,74,76,78,80,82,84,86,88,90], "labels": false, "tickSize": 3, "title": null}},
                "y": {"field": "v", "type": "quantitative", "scale": {"domain": [-1201, 2932], "nice": false, "zero": false}, "axis": {"orient": "left", "values": [-1200,-1100,-1000,-900,-800,-700,-600,-500,-400,-300,-200,-100,0,100,200,300,400,500,600,700,800,900,1000,1100,1200,1300,1400,1500,1600,1700,1800,1900,2000,2100,2200,2300,2400,2500,2600,2700,2800,2900], "labels": false, "tickSize": 3, "title": null}},
                "detail": {"field": "seg"}}},
            {"data": {"name": "p2"}, "mark": {"type": "line", "color": "#111111", "strokeWidth": 1.7, "strokeJoin": "round"},
              "encoding": {
                "x": {"field": "t", "type": "quantitative", "axis": {"orient": "bottom", "values": [0,10,20,30,40,50,60,70,80,90], "tickSize": 5, "labelAlign": {"condition": {"test": "datum.value === 90", "value": "right"}, "value": "center"}, "title": "min", "titleX": 497, "titleY": 17}},
                "y": {"field": "v", "type": "quantitative", "axis": {"orient": "left", "values": [-1000,-500,0,500,1000,1500,2000,2500], "tickSize": 6, "title": "uAU", "titleX": -50, "titleY": -18}}}},
            {"data": {"name": "k2"}, "mark": {"type": "text", "angle": -55, "align": "left", "baseline": "middle", "dx": 2, "dy": 7},
              "encoding": {
                "x": {"field": "t", "type": "quantitative", "axis": {"orient": "top", "labels": false, "ticks": false, "title": "PDA Multi 2 450nm,4nm", "titleX": 496, "titleY": 3}},
                "y": {"field": "v", "type": "quantitative", "axis": null},
                "text": {"field": "t", "format": ".3f"}}}
          ]
        },
        {
          "bounds": "flush",
          "spacing": 115,
          "vconcat": [
            {
              "width": 488, "height": 366,
              "title": {"text": "[Co₄SO₂TCA]₆[Λ-Co(L)₃]₈", "fontSize": 29, "dx": -9, "offset": 10},
              "resolve": {"axis": {"x": "independent", "y": "independent"}},
              "layer": [
                {"data": {"name": "b4"}, "mark": {"type": "line", "color": "#9a9a9a", "strokeWidth": 1},
                  "encoding": {
                    "x": {"field": "t", "type": "quantitative", "scale": {"domain": [0, 90], "nice": false, "zero": false}, "axis": {"orient": "bottom", "values": [0,2,4,6,8,10,12,14,16,18,20,22,24,26,28,30,32,34,36,38,40,42,44,46,48,50,52,54,56,58,60,62,64,66,68,70,72,74,76,78,80,82,84,86,88,90], "labels": false, "tickSize": 3, "title": null}},
                    "y": {"field": "v", "type": "quantitative", "scale": {"domain": [-1312, 3883], "nice": false, "zero": false}, "axis": {"orient": "left", "values": [-1300,-1200,-1100,-1000,-900,-800,-700,-600,-500,-400,-300,-200,-100,0,100,200,300,400,500,600,700,800,900,1000,1100,1200,1300,1400,1500,1600,1700,1800,1900,2000,2100,2200,2300,2400,2500,2600,2700,2800,2900,3000,3100,3200,3300,3400,3500,3600,3700,3800], "labels": false, "tickSize": 3, "title": null}},
                    "detail": {"field": "seg"}}},
                {"data": {"name": "p4"}, "mark": {"type": "line", "color": "#111111", "strokeWidth": 1.7, "strokeJoin": "round"},
                  "encoding": {
                    "x": {"field": "t", "type": "quantitative", "axis": {"orient": "bottom", "values": [0,10,20,30,40,50,60,70,80,90], "tickSize": 5, "title": "min", "titleX": 488, "titleY": 17}},
                    "y": {"field": "v", "type": "quantitative", "axis": {"orient": "left", "values": [-1000,-500,0,500,1000,1500,2000,2500,3000,3500], "tickSize": 6, "title": "uAU", "titleX": -50, "titleY": -15}}}},
                {"data": {"name": "k4"}, "mark": {"type": "text", "angle": -55, "align": "left", "baseline": "middle", "dx": 2, "dy": 7},
                  "encoding": {
                    "x": {"field": "t", "type": "quantitative", "axis": {"orient": "top", "labels": false, "ticks": false, "title": "PDA Multi 2 450nm,4nm", "titleX": 487, "titleY": 3}},
                    "y": {"field": "v", "type": "quantitative", "axis": null},
                    "text": {"field": "t", "format": ".3f"}}}
              ]
            },
            {
              "width": 486, "height": 373,
              "title": {"text": "[Co₄SO₂TCA]₆[rac-Co(L)₃]₈", "fontSize": 24.5, "dx": -8, "offset": -1},
              "resolve": {"axis": {"x": "independent", "y": "independent"}},
              "layer": [
                {"data": {"name": "b6"}, "mark": {"type": "line", "color": "#9a9a9a", "strokeWidth": 1},
                  "encoding": {
                    "x": {"field": "t", "type": "quantitative", "scale": {"domain": [0, 90], "nice": false, "zero": false}, "axis": {"orient": "bottom", "values": [0,2,4,6,8,10,12,14,16,18,20,22,24,26,28,30,32,34,36,38,40,42,44,46,48,50,52,54,56,58,60,62,64,66,68,70,72,74,76,78,80,82,84,86,88,90], "labels": false, "tickSize": 3, "title": null}},
                    "y": {"field": "v", "type": "quantitative", "scale": {"domain": [-1507, 4060], "nice": false, "zero": false}, "axis": {"orient": "left", "values": [-1400,-1200,-1000,-800,-600,-400,-200,0,200,400,600,800,1000,1200,1400,1600,1800,2000,2200,2400,2600,2800,3000,3200,3400,3600,3800,4000], "labels": false, "tickSize": 3, "title": null}},
                    "detail": {"field": "seg"}}},
                {"data": {"name": "p6"}, "mark": {"type": "line", "color": "#111111", "strokeWidth": 1.7, "strokeJoin": "round"},
                  "encoding": {
                    "x": {"field": "t", "type": "quantitative", "axis": {"orient": "bottom", "values": [0,10,20,30,40,50,60,70,80,90], "tickSize": 5, "title": "min", "titleX": 486, "titleY": 17}},
                    "y": {"field": "v", "type": "quantitative", "axis": {"orient": "left", "values": [-1000,0,1000,2000,3000,4000], "tickSize": 6, "title": "uAU", "titleX": -50, "titleY": -19}}}},
                {"data": {"name": "k6"}, "mark": {"type": "text", "angle": -55, "align": "left", "baseline": "middle", "dx": 2, "dy": 7},
                  "encoding": {
                    "x": {"field": "t", "type": "quantitative", "axis": {"orient": "top", "labels": false, "ticks": false, "title": "PDA Multi 2 450nm,4nm", "titleX": 485, "titleY": 3}},
                    "y": {"field": "v", "type": "quantitative", "axis": null},
                    "text": {"field": "t", "format": ".3f"}}}
              ]
            }
          ]
        }
      ]
    }
  ]
}
